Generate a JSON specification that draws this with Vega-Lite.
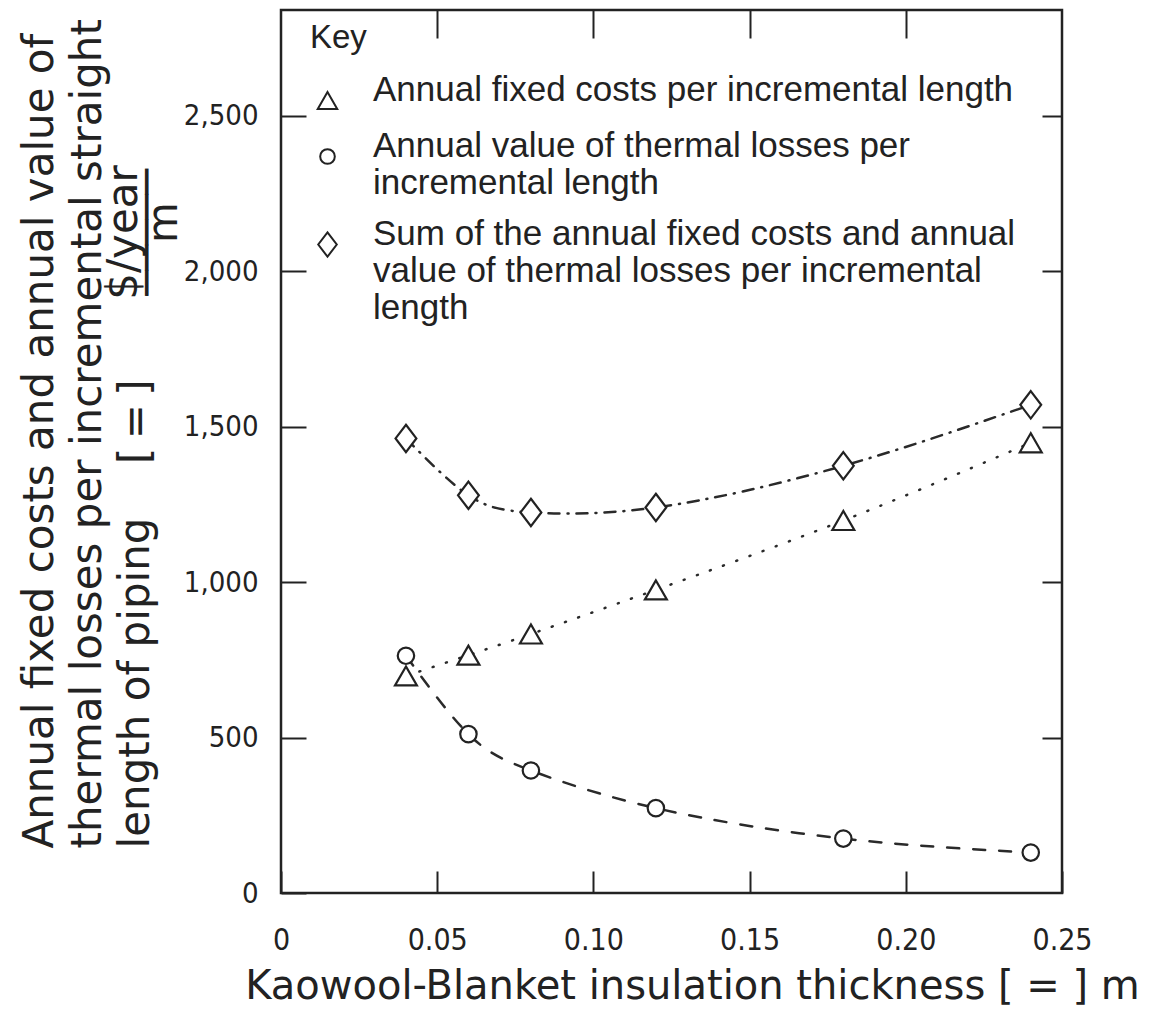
{
  "$schema": "https://vega.github.io/schema/vega-lite/v6.json",
  "width": 781,
  "height": 883,
  "autosize": {"type": "none"},
  "padding": {"left": 281, "top": 10, "right": 90, "bottom": 122},
  "background": "white",
  "config": {
    "view": {"stroke": "#222222", "strokeWidth": 2.5},
    "axis": {
      "grid": false,
      "domain": false,
      "tickColor": "#222222",
      "tickWidth": 2,
      "labelColor": "#222222",
      "titleColor": "#222222",
      "titleFontWeight": "normal"
    },
    "legend": {
      "orient": "none",
      "legendX": 29,
      "legendY": 12,
      "padding": 0,
      "titleFont": "Liberation Sans",
      "titleFontSize": 33,
      "titleFontWeight": "normal",
      "titleColor": "#222222",
      "titlePadding": 28,
      "labelFont": "Liberation Sans",
      "labelFontSize": 35,
      "labelColor": "#222222",
      "labelLimit": 900,
      "labelBaseline": "alphabetic",
      "labelOffset": 28,
      "rowPadding": 15,
      "symbolSize": 380,
      "symbolStrokeWidth": 2,
      "symbolOpacity": 1
    }
  },
  "data": {
    "values": [
      {"t": 0.04, "v": 698, "s": "fixed"},
      {"t": 0.06, "v": 765, "s": "fixed"},
      {"t": 0.08, "v": 833, "s": "fixed"},
      {"t": 0.12, "v": 975, "s": "fixed"},
      {"t": 0.18, "v": 1198, "s": "fixed"},
      {"t": 0.24, "v": 1448, "s": "fixed"},
      {"t": 0.04, "v": 763, "s": "thermal"},
      {"t": 0.06, "v": 511, "s": "thermal"},
      {"t": 0.08, "v": 394, "s": "thermal"},
      {"t": 0.12, "v": 273, "s": "thermal"},
      {"t": 0.18, "v": 175, "s": "thermal"},
      {"t": 0.24, "v": 130, "s": "thermal"},
      {"t": 0.04, "v": 1462, "s": "sum"},
      {"t": 0.06, "v": 1279, "s": "sum"},
      {"t": 0.08, "v": 1224, "s": "sum"},
      {"t": 0.12, "v": 1240, "s": "sum"},
      {"t": 0.18, "v": 1374, "s": "sum"},
      {"t": 0.24, "v": 1570, "s": "sum"}
    ]
  },
  "layer": [
    {
      "mark": {"type": "line", "interpolate": "natural", "strokeWidth": 2.5, "strokeCap": "round", "color": "#2a2a2a"},
      "encoding": {
        "x": {
          "field": "t", "type": "quantitative",
          "scale": {"domain": [0, 0.25], "nice": false, "zero": false},
          "axis": {
            "orient": "bottom",
            "values": [0, 0.05, 0.1, 0.15, 0.2, 0.25],
            "labelExpr": "datum.value === 0 ? '0' : format(datum.value, '.2f')",
            "tickSize": -22,
            "labelPadding": 54,
            "labelFont": "DejaVu Sans Condensed, Liberation Sans, sans-serif",
            "labelFontSize": 30,
            "labelFlush": false,
            "labelOverlap": false,
            "title": "Kaowool-Blanket insulation thickness  [ = ] m",
            "titleFont": "DejaVu Sans",
            "titleFontSize": 40,
            "titleAnchor": "middle",
            "titleAlign": "center",
            "titleBaseline": "alphabetic",
            "titleX": 411,
            "titleY": 105
          }
        },
        "y": {
          "field": "v", "type": "quantitative",
          "scale": {"domain": [0, 2840], "nice": false},
          "axis": {
            "orient": "left",
            "values": [0, 500, 1000, 1500, 2000, 2500],
            "labelExpr": "format(datum.value, ',d')",
            "tickSize": -25,
            "labelPadding": 48,
            "labelFont": "DejaVu Sans Condensed, Liberation Sans, sans-serif",
            "labelFontSize": 29,
            "labelOverlap": false,
            "title": ["Annual fixed costs and annual value of", "thermal losses per incremental straight", "length of piping\u00a0\u00a0\u00a0\u00a0[\u2009=\u2009]"],
            "titleFont": "DejaVu Sans",
            "titleFontSize": 42,
            "titleLineHeight": 48,
            "titleAngle": -90,
            "titleAlign": "left",
            "titleBaseline": "alphabetic",
            "titleX": -229,
            "titleY": 838
          }
        },
        "detail": {"field": "s"},
        "strokeDash": {
          "field": "s", "type": "nominal",
          "scale": {"domain": ["sum", "fixed", "thermal"], "range": [[11, 8, 1, 8], [1, 13], [12, 14]]},
          "legend": null
        }
      }
    },
    {
      "mark": {"type": "point", "size": 480, "filled": true, "fill": "white", "stroke": "#222222", "strokeWidth": 2.2, "opacity": 1},
      "encoding": {
        "x": {"field": "t", "type": "quantitative", "axis": null},
        "y": {"field": "v", "type": "quantitative", "axis": null},
        "shape": {
          "field": "s", "type": "nominal",
          "scale": {
            "domain": ["fixed", "thermal", "sum"],
            "range": ["triangle-up", "M-0.75,0A0.75,0.75 0 1,1 0.75,0A0.75,0.75 0 1,1 -0.75,0Z", "M0,-1.25L0.95,0L0,1.25L-0.95,0Z"]
          },
          "legend": {
            "title": "Key",
            "labelExpr": "datum.value == 'fixed' ? 'Annual fixed costs per incremental length' : datum.value == 'thermal' ? ['Annual value of thermal losses per', 'incremental length'] : ['Sum of the annual fixed costs and annual', 'value of thermal losses per incremental', 'length']"
          }
        }
      }
    },
    {
      "mark": {"type": "point", "opacity": 0},
      "encoding": {
        "x": {
          "field": "t", "type": "quantitative",
          "axis": {
            "orient": "top",
            "values": [0.05, 0.1, 0.15, 0.2],
            "tickSize": -28,
            "labels": false,
            "title": "m",
            "titleFont": "DejaVu Sans",
            "titleFontSize": 42,
            "titleAngle": -90,
            "titleAlign": "center",
            "titleBaseline": "alphabetic",
            "titleX": -105,
            "titleY": 212
          }
        },
        "y": {
          "field": "v", "type": "quantitative",
          "axis": {
            "orient": "right",
            "values": [500, 1000, 1500, 2000, 2500],
            "tickSize": -20,
            "labels": false,
            "title": ["$/year", "\u2500\u2500\u2500\u2500\u2500"],
            "titleFont": "DejaVu Sans",
            "titleFontSize": 42,
            "titleLineHeight": 24,
            "titleAngle": -90,
            "titleAlign": "center",
            "titleBaseline": "alphabetic",
            "titleX": -926,
            "titleY": 222
          }
        }
      }
    }
  ],
  "resolve": {"axis": {"x": "independent", "y": "independent"}}
}
